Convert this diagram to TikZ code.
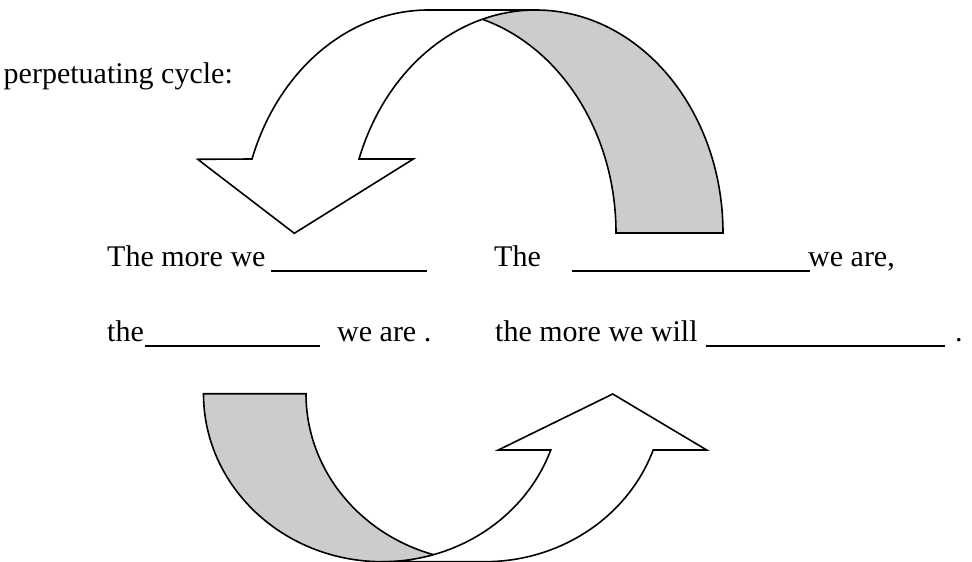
\documentclass[tikz,border=0pt]{standalone}
\usepackage{fontspec}
\setmainfont{Liberation Serif}
\usetikzlibrary{positioning}
\definecolor{backgray}{RGB}{204,204,204}

\begin{document}
\begin{tikzpicture}[
    x=1pt, y=-1pt,
    band/.style={draw=black, line width=1.6pt, line join=miter},
    words/.style={inner sep=0pt, anchor=base west, font=\fontsize{30}{36}\selectfont},
    blank/.style={draw=black, line width=1.7pt}
]
\clip (0,0) rectangle (972,562);

% upper arrow: back band, then front arrow
\draw[band, fill=backgray] (535.7,10) arc[start angle=270, end angle=360, x radius=187.3, y radius=223]
    -- (616,233) arc[start angle=360, end angle=270, x radius=187.3, y radius=223] -- cycle;
\draw[band, fill=white] (252,159) arc[start angle=199.38, end angle=270, x radius=187.3, y radius=223]
    -- (535.7,10) arc[start angle=270, end angle=199.38, x radius=187.3, y radius=223]
    -- (413.3,159) -- (294.3,233.3) -- (197.7,159.3) -- cycle;

% lower arrow
\draw[band, fill=backgray] (382.3,561.7) arc[start angle=90, end angle=180, x radius=178.8, y radius=168]
    -- (306,393.7) arc[start angle=180, end angle=90, x radius=178.8, y radius=168] -- cycle;
\draw[band, fill=white] (653.2,450) arc[start angle=19.58, end angle=90, x radius=178.8, y radius=168]
    -- (382.3,561.7) arc[start angle=90, end angle=19.58, x radius=178.8, y radius=168]
    -- (498.3,450) -- (612.7,394) -- (706.7,450) -- cycle;

\node[words, anchor=base east] (cycle) at (233,83) {perpetuating cycle:};

\node[words] (moredo) at (107,266) {The more we};
\draw[blank] (271,271) -- (427,271);
\node[words] (thefeel) at (494,266) {The};
\draw[blank] (572,271) -- (810,271);
\node[words] (weare1) at (808,266) {we are,};

\node[words] (thelow) at (107,341) {the};
\draw[blank] (145,346) -- (320,346);
\node[words] (weare2) at (337,341) {we are .};
\node[words] (morewill) at (495,341) {the more we will};
\draw[blank] (706,346) -- (945,346);
\node[words] (stop) at (955,341) {.};
\end{tikzpicture}
\end{document}
